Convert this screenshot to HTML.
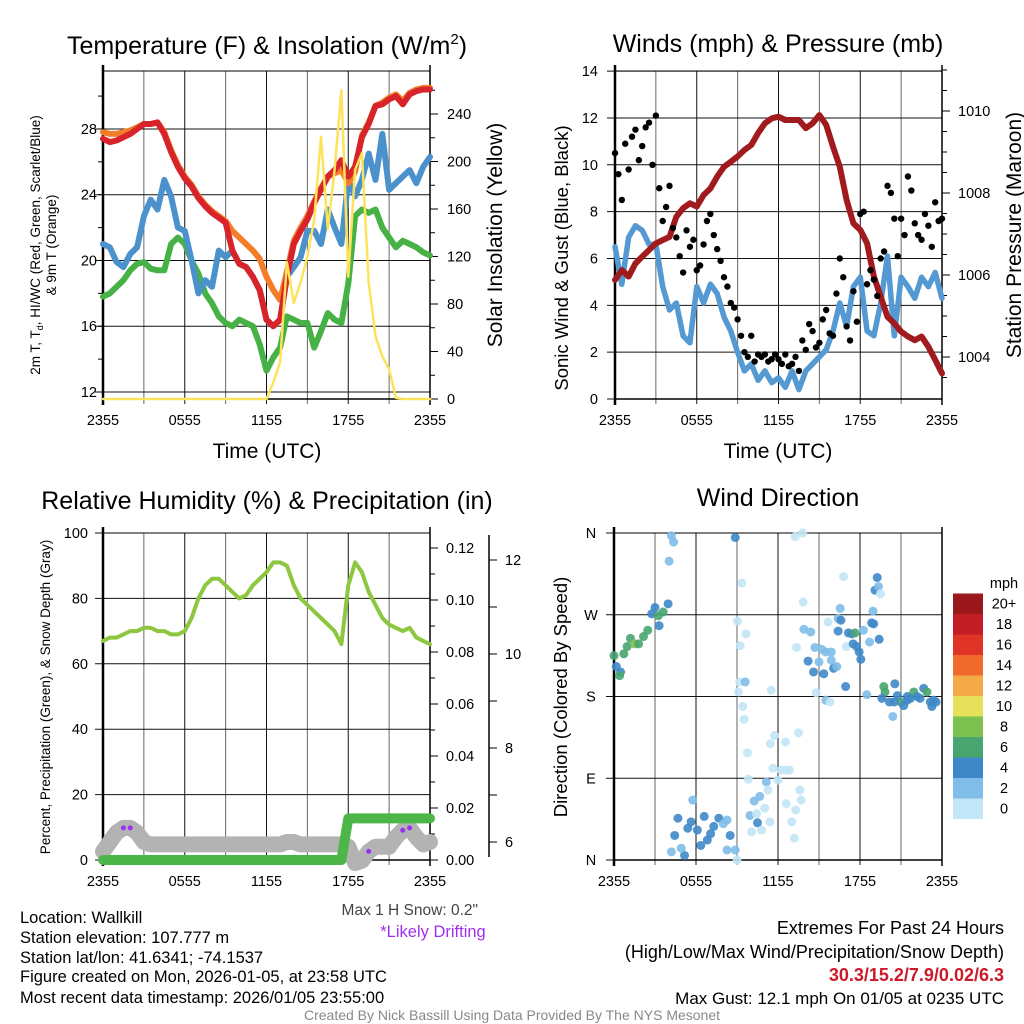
<!DOCTYPE html>
<html><head><meta charset="utf-8"><style>
html,body{margin:0;padding:0;background:#fff;}
svg{display:block;font-family:"Liberation Sans",Arial,sans-serif;}
</style></head><body>
<svg id="chart" width="1024" height="1024" viewBox="0 0 1024 1024" xmlns="http://www.w3.org/2000/svg">
<rect width="1024" height="1024" fill="#fff"/>
<g font-size="25" text-anchor="middle" fill="#000">
<text x="267" y="54">Temperature (F) &amp; Insolation (W/m<tspan dy="-10" font-size="15">2</tspan><tspan dy="10">)</tspan></text>
<text x="778" y="52">Winds (mph) &amp; Pressure (mb)</text>
<text x="267" y="509">Relative Humidity (%) &amp; Precipitation (in)</text>
<text x="778" y="506">Wind Direction</text>
</g>
<g font-size="21" text-anchor="middle">
<text x="267" y="458">Time (UTC)</text>
<text x="778" y="458">Time (UTC)</text>
<text transform="translate(502,235) rotate(-90)">Solar Insolation (Yellow)</text>
<text transform="translate(1021,235) rotate(-90)">Station Pressure (Maroon)</text>
</g>
<g font-size="18.5" text-anchor="middle">
<text transform="translate(568,258) rotate(-90)">Sonic Wind &amp; Gust (Blue, Black)</text>
<text transform="translate(567,697) rotate(-90)">Direction (Colored By Speed)</text>
</g>
<g font-size="13.5" text-anchor="middle">
<text transform="translate(40,245) rotate(-90)">2m T, T<tspan font-size="9" dy="3">d</tspan><tspan dy="-3">, HI/WC (Red, Green, Scarlet/Blue)</tspan></text>
<text transform="translate(56,245) rotate(-90)">&amp; 9m T (Orange)</text>
<text transform="translate(50,697) rotate(-90)">Percent, Precipitation (Green), &amp; Snow Depth (Gray)</text>
</g>
<g id="plots"></g>
<g font-size="16.5" fill="#000">
<text x="20" y="923">Location: Wallkill</text>
<text x="20" y="943">Station elevation: 107.777 m</text>
<text x="20" y="963">Station lat/lon: 41.6341; -74.1537</text>
<text x="20" y="982">Figure created on Mon, 2026-01-05, at 23:58 UTC</text>
<text x="20" y="1003">Most recent data timestamp: 2026/01/05 23:55:00</text>
<text x="478" y="915" text-anchor="end" fill="#444" font-size="15.5">Max 1 H Snow: 0.2"</text>
<text x="433" y="937" text-anchor="middle" fill="#a030f0">*Likely Drifting</text>
<g text-anchor="end" font-size="18">
<text x="1004" y="934">Extremes For Past 24 Hours</text>
<text x="1004" y="958">(High/Low/Max Wind/Precipitation/Snow Depth)</text>
<text x="1004" y="981" fill="#cc1a2a" font-weight="bold">30.3/15.2/7.9/0.02/6.3</text>
<text x="1004" y="1004" font-size="17">Max Gust: 12.1 mph On 01/05 at 0235 UTC</text>
</g>
<text x="512" y="1020" text-anchor="middle" font-size="14" fill="#888">Created By Nick Bassill Using Data Provided By The NYS Mesonet</text>
</g>
</svg>
<script>
// ---- data (49 samples, every 30 min from 2355 to 2355) ----
const timeLabels = ["2355","0555","1155","1755","2355"];
const tempF = [27.4,27.2,27.3,27.5,27.7,28.0,28.3,28.3,28.4,27.7,26.6,25.7,25.0,24.5,23.8,23.3,22.9,22.6,22.3,20.6,19.8,19.6,19.0,18.2,16.4,16.0,16.4,19.0,21.0,21.8,22.5,23.5,24.3,25.1,25.5,26.1,25.1,25.7,27.5,28.3,29.4,29.5,29.8,30.0,29.5,30.1,30.3,30.4,30.4];
const temp9m = [27.8,27.7,27.7,27.8,27.9,28.1,28.3,28.3,28.4,27.8,26.7,25.8,25.1,24.6,23.9,23.4,23.0,22.7,22.4,21.8,21.4,21.0,20.6,20.1,19.0,18.2,17.6,19.3,21.2,22.0,22.7,23.6,24.4,25.1,25.3,25.5,24.7,25.4,27.6,28.4,29.4,29.6,29.9,30.1,29.7,30.2,30.4,30.5,30.5];
const dewF = [17.8,18.0,18.4,18.8,19.4,19.8,19.9,19.5,19.4,19.4,21.0,21.4,21.0,20.0,19.2,18.0,17.4,16.6,16.2,16.0,16.4,16.2,16.0,14.9,13.3,14.1,14.7,16.6,16.4,16.2,16.2,14.7,15.7,16.8,16.4,16.2,18.6,22.7,23.1,22.9,23.1,22.0,21.4,20.8,21.2,21.0,20.8,20.5,20.3];
const windChill = [21.0,20.8,19.9,19.6,20.4,20.8,22.7,23.7,23.1,24.9,23.9,22.0,21.8,20.0,18.0,18.8,18.4,20.6,20.2,20.6,19.8,19.6,19.0,18.2,16.4,16.0,16.4,19.0,19.6,20.2,21.8,21.8,21.0,23.1,22.0,21.0,24.9,23.9,24.9,26.5,24.9,27.7,24.3,24.7,25.1,25.5,24.7,25.7,26.3];
const insolation = [0,0,0,0,0,0,0,0,0,0,0,0,0,0,0,0,0,0,0,0,0,0,0,0,0,14,31,115,81,98,120,151,221,143,193,260,103,193,207,98,53,36,25,1,0,0,0,0,0];
const windSpeed = [6.5,4.9,6.9,7.4,7.2,6.6,6.6,4.8,3.8,4.1,2.7,2.4,4.8,4.1,4.9,4.5,3.5,2.9,2.0,1.2,1.5,0.8,1.2,0.7,0.9,0.5,1.2,0.4,1.2,1.5,1.8,2.1,2.9,4.1,3.1,4.8,5.2,2.9,2.7,4.1,6.1,2.7,5.2,4.8,4.3,5.2,4.8,5.4,4.3];
const windGust = [10.5,8.5,9.8,11.5,10.8,11.8,12.1,7.6,9.1,6.9,5.4,6.5,5.5,6.6,7.9,6.4,5.2,4.1,3.4,2.0,2.7,1.9,1.9,1.7,1.7,1.9,1.5,1.2,2.1,2.9,2.4,3.8,2.7,6.0,3.1,4.6,7.9,4.9,5.1,6.0,9.1,7.7,7.7,9.5,7.5,6.8,7.4,8.4,7.7];
const windGustHalf = [9.6,10.9,11.2,10.2,11.6,10.0,9.0,8.2,7.3,6.1,7.2,6.8,5.7,7.6,7.0,5.9,4.8,3.9,2.7,1.8,1.6,1.8,1.6,1.9,1.5,1.4,1.8,2.5,3.2,2.2,3.4,2.8,4.5,5.2,2.5,3.3,8.0,5.5,4.4,6.3,8.8,6.1,7.0,8.9,7.0,7.9,6.5,7.6];
const pressure = [1005.88,1006.12,1005.96,1006.28,1006.45,1006.61,1006.77,1006.85,1006.93,1007.42,1007.63,1007.75,1007.67,1007.95,1008.11,1008.40,1008.64,1008.76,1008.89,1009.05,1009.17,1009.46,1009.70,1009.82,1009.86,1009.78,1009.78,1009.78,1009.58,1009.70,1009.90,1009.66,1009.13,1008.64,1007.83,1007.26,1007.10,1006.77,1005.96,1005.47,1004.98,1004.82,1004.62,1004.50,1004.41,1004.50,1004.25,1003.93,1003.60];
const relHum = [67,68,68,69,70,70,71,71,70,70,69,69,70,74,80,84,86,86,84,82,80,81,84,86,88,91,91,90,84,80,78,76,74,72,70,66,84,91,88,82,78,74,72,71,70,71,68,67,66];
const precip = [0,0,0,0,0,0,0,0,0,0,0,0,0,0,0,0,0,0,0,0,0,0,0,0,0,0,0,0,0,0,0,0,0,0,0,0,0.016,0.016,0.016,0.016,0.016,0.016,0.016,0.016,0.016,0.016,0.016,0.016,0.016];
const snowDepth = [5.8,6.0,6.2,6.3,6.3,6.2,6.0,5.95,5.95,5.95,5.95,5.95,5.95,5.95,5.95,5.95,5.95,5.95,5.95,5.95,5.95,5.95,5.95,5.95,5.95,5.95,5.95,6.0,6.0,5.95,5.95,5.95,5.95,5.95,5.95,5.95,5.9,5.55,5.6,5.8,5.9,5.9,5.9,6.1,6.25,6.3,6.1,5.95,6.0];
const drifting = [0,0,0,1,1,0,0,0,0,0,0,0,0,0,0,0,0,0,0,0,0,0,0,0,0,0,0,0,0,0,0,0,0,0,0,0,0,0,0,1,0,0,0,0,1,1,0,0,0];
const dirHour = [0,0.17,0.48,0.41,0.72,0.96,1.2,1.5,1.8,2.16,2.47,2.76,3.0,3.24,3.3,3.6,3.96,4.2,4.36,4.03,5.76,4.68,4.44,4.2,5.16,4.92,5.4,5.64,6.1,6.6,6.83,6.35,7.07,7.3,7.67,8.0,8.27,8.5,8.27,8.87,9.0,8.87,9.35,9.04,9.66,9.23,9.2,9.6,9.11,9.42,9.52,9.76,9.83,9.95,10.07,10.43,10.26,10.67,11.15,11.03,10.5,10.8,11.4,11.27,11.5,11.44,11.75,11.63,11.99,12.54,12.23,12.6,12.83,12.6,13.0,13.2,13.3,13.6,13.7,13.5,13.26,13.8,13.84,13.9,13.36,14.2,14.4,14.7,14.6,14.8,15.0,15.2,15.5,15.35,15.9,15.9,16.07,16.3,15.5,15.8,15.66,16.55,16.4,16.8,16.6,16.4,16.95,17.0,17.15,17.4,17.63,17.5,17.75,17.94,18.06,18.25,18.5,18.7,18.85,18.95,19.0,19.26,19.1,19.35,19.5,19.4,19.74,19.83,19.6,20.15,20.4,20.55,20.74,20.98,21.2,21.46,21.7,21.94,22.18,22.4,22.66,22.9,23.14,23.38,23.57,23.26,20.5,21.46];
const dirDeg = [225,213,207,203,227,235,244,238,238,246,253,271,278,269,258,273,282,357,350,329,66,46,27,9,5,13,35,42,33,48,22,16,29,37,46,40,44,27,11,11,0,355,305,263,249,236,196,196,185,169,155,118,89,49,31,51,65,70,86,57,41,33,42,77,187,128,137,101,88,130,99,99,99,62,42,24,55,77,66,140,356,360,284,254,234,219,251,234,207,184,218,232,229,205,229,220,211,213,176,174,262,277,266,312,264,252,191,235,250,249,250,238,235,229,221,253,182,240,261,274,260,311,297,301,293,243,191,185,178,174,158,194,181,174,170,176,178,185,180,178,189,185,174,176,174,169,174,180];
const dirSpeed = [7,5,5,7,7,7,7,9,7,7,7,5,5,7,5,7,5,3,3,3,3,5,5,3,5,3,5,5,5,5,5,5,5,5,5,3,3,5,3,3,1,5,1,1,1,1,1,3,1,1,1,1,1,3,1,1,3,3,3,1,5,1,1,1,1,1,1,1,1,1,1,1,1,1,1,1,1,1,1,1,1,1,1,3,1,5,3,3,5,1,3,3,3,5,3,3,5,3,3,1,1,3,3,1,5,5,5,1,5,5,7,5,5,5,5,3,3,3,5,3,5,5,5,3,1,5,7,7,5,5,3,5,5,7,5,5,5,7,5,5,5,7,5,5,5,5,5,5];
const speedBins = ["0","2","4","6","8","10","12","14","16","18","20+"];
const speedColors = ["#c2e5f7","#80bde8","#3f88c8","#48a56f","#7dc24f","#e6e05a","#f5aa4a","#f06a2d","#df3426","#c11f25","#9a181c"];

const NS = "http://www.w3.org/2000/svg";
const root = document.getElementById('plots');
function mk(tag, attrs, parent) {
  const e = document.createElementNS(NS, tag);
  for (const k in attrs) e.setAttribute(k, attrs[k]);
  (parent || root).appendChild(e);
  return e;
}
const hourOf = i => i * 0.5;

const P1 = {x0:103, x1:430, y0:71, y1:399};
const P2 = {x0:615, x1:942, y0:71, y1:399};
const P3 = {x0:103, x1:430, y0:533, y1:860};
const P4 = {x0:614, x1:942, y0:533, y1:860};
const xh = (P, h) => P.x0 + h / 24 * (P.x1 - P.x0);
const yT = v => 392 - (v - 12) * 16.44;
const yI = v => 399 - v * 1.1875;
const yW = v => 399 - v * 23.42;
const yP = v => 357 - (v - 1004) * 41;
const yRH = v => 860 - v * 3.27;
const yPr = v => 860 - v * 2600;
const ySn = v => 842 - (v - 6) * 47;
const yD = v => 860 - v / 360 * 327;

function frame(P, name) {
  const g = mk('g', {});
  
  
  for (let k = 0; k <= 8; k++) {
    const x = P.x0 + k * (P.x1 - P.x0) / 8;
    mk('line', {x1:x, x2:x, y1:P.y0, y2:P.y1 + 5, stroke: k % 2 ? '#666' : '#111', 'stroke-width':1}, g);
  }
  timeLabels.forEach((t, k) => {
    const x = P.x0 + k * (P.x1 - P.x0) / 4;
    const tx = mk('text', {x:x, y:P.y1 + 26, 'font-size':14.5, 'text-anchor':'middle'}, g);
    tx.textContent = t;
  });
  return g;
}
function hgrid(g, P, y) { mk('line', {x1:P.x0 - 8, x2:P.x1, y1:y, y2:y, stroke:'#111', 'stroke-width':1}, g); }
function label(g, x, y, txt, anchor) {
  const t = mk('text', {x:x, y:y + 5, 'font-size':14.5, 'text-anchor':anchor}, g);
  t.textContent = txt;
}
function boxAxes(g, P) {
  mk('line', {x1:P.x0, x2:P.x0, y1:P.y0 - 6, y2:P.y1 + 6, stroke:'#000', 'stroke-width':2.5}, g);
  mk('line', {x1:P.x1, x2:P.x1, y1:P.y0 - 6, y2:P.y1 + 6, stroke:'#000', 'stroke-width':1.5}, g);
  mk('line', {x1:P.x0, x2:P.x1, y1:P.y1, y2:P.y1, stroke:'#000', 'stroke-width':1.5}, g);
  mk('line', {x1:P.x0, x2:P.x1, y1:P.y0, y2:P.y0, stroke:'#000', 'stroke-width':1}, g);
}
function linePath(P, vals, yf) {
  return vals.map((v, i) => (i ? 'L' : 'M') + xh(P, hourOf(i)).toFixed(1) + ',' + yf(v).toFixed(1)).join(' ');
}
function series(P, vals, yf, color, w, name) {
  const p = mk('path', {d: linePath(P, vals, yf), fill:'none', stroke:color, 'stroke-width':w, 'stroke-linejoin':'round', 'stroke-linecap':'round'});
  
  
  return p;
}

// ---------- Panel 1 ----------
const g1 = frame(P1, 'temp');
[12,16,20,24,28].forEach(v => { hgrid(g1, P1, yT(v)); label(g1, 97, yT(v), String(v), 'end'); });
for (let v = 12; v <= 30; v += 2) mk('line', {x1:P1.x0 - 5, x2:P1.x0, y1:yT(v), y2:yT(v), stroke:'#000'}, g1);
for (let v = 0; v <= 260; v += 20) mk('line', {x1:P1.x1, x2:P1.x1 + (v % 40 ? 5 : 8), y1:yI(v), y2:yI(v), stroke:'#000'}, g1);
for (let v = 0; v <= 240; v += 40) label(g1, 447, yI(v), String(v), 'start');
boxAxes(g1, P1);
series(P1, dewF, yT, '#46b144', 6, 'dewpoint-line');
series(P1, windChill, yT, '#4b91cc', 6, 'wind-chill-line');
series(P1, temp9m, yT, '#f47d2a', 6, 'temp-9m-line');
series(P1, tempF, yT, '#d8232a', 6, 'temp-2m-line');
series(P1, insolation, yI, '#fde35b', 2.5, 'insolation-line');

// ---------- Panel 2 ----------
const g2 = frame(P2, 'wind');
for (let v = 0; v <= 14; v += 2) { hgrid(g2, P2, yW(v)); label(g2, 598, yW(v), String(v), 'end'); }
for (let v = 1003.5; v <= 1011; v += 0.5) mk('line', {x1:P2.x1, x2:P2.x1 + (v % 2 ? 5 : 8), y1:yP(v), y2:yP(v), stroke:'#000'}, g2);
for (let v = 1004; v <= 1010; v += 2) label(g2, 958, yP(v), String(v), 'start');
boxAxes(g2, P2);
series(P2, windSpeed, yW, '#5499d2', 5.5, 'wind-speed-line');
series(P2, pressure, yP, '#a01a1e', 6, 'pressure-line');
windGust.forEach((v, i) => {
  const c = mk('circle', {cx:xh(P2, hourOf(i)), cy:yW(v), r:3.2, fill:'#000'});
  
  
});
windGustHalf.forEach((v, i) => {
  const c = mk('circle', {cx:xh(P2, hourOf(i) + 0.25), cy:yW(v), r:3.2, fill:'#000'});
  
  
});

// ---------- Panel 3 ----------
const g3 = frame(P3, 'rh');
for (let v = 0; v <= 100; v += 20) { hgrid(g3, P3, yRH(v)); label(g3, 88, yRH(v), String(v), 'end'); }
for (let v = 0; v <= 0.125; v += 0.01) mk('line', {x1:P3.x1, x2:P3.x1 + (Math.round(v * 100) % 2 ? 5 : 8), y1:yPr(v), y2:yPr(v), stroke:'#000'}, g3);
for (let v = 0; v <= 0.121; v += 0.02) label(g3, 446, yPr(v), v.toFixed(2), 'start');
mk('line', {x1:489, x2:489, y1:535, y2:857, stroke:'#000', 'stroke-width':1.5}, g3);
for (let v = 5.5; v <= 12.5; v += 0.5) mk('line', {x1:489, x2:489 + (v % 1 ? 0 : 8), y1:ySn(v), y2:ySn(v), stroke:'#000'}, g3);
for (let v = 6; v <= 12; v += 2) label(g3, 505, ySn(v), String(v), 'start');
boxAxes(g3, P3);
series(P3, snowDepth, ySn, '#b3b3b3', 16, 'snow-depth-line');
series(P3, precip, yPr, '#4cb748', 10, 'precip-line');
series(P3, relHum, yRH, '#8dc63f', 4, 'rh-line');
drifting.forEach((f, i) => {
  if (!f) return;
  const c = mk('circle', {cx:xh(P3, hourOf(i)), cy:ySn(snowDepth[i]), r:2.5, fill:'#9b30f0'});
  
  
});

// ---------- Panel 4 ----------
const g4 = frame(P4, 'direction');
const dirNames = ['N','E','S','W','N'];
[0,90,180,270,360].forEach((d, k) => { hgrid(g4, P4, yD(d)); label(g4, 591, yD(d), dirNames[k], 'middle'); });
boxAxes(g4, P4);
dirHour.forEach((h, i) => {
  const bin = Math.min(10, Math.floor(dirSpeed[i] / 2));
  const c = mk('circle', {cx:xh(P4, h), cy:yD(dirDeg[i]), r:4.5, fill:speedColors[bin], 'fill-opacity':0.9});
  
  
});
const cb = mk('g', {});


const cbt = mk('text', {x:1004, y:588, 'font-size':14.5, 'text-anchor':'middle'}, cb);
cbt.textContent = 'mph';
speedBins.forEach((b, k) => {
  const y = 819 - (k + 1) * 20.5;
  mk('rect', {x:953, y:y, width:30, height:20.5, fill:speedColors[k]}, cb);
  const t = mk('text', {x:1004, y:y + 15, 'font-size':14.5, 'text-anchor':'middle'}, cb);
  t.textContent = b;
});
</script>
</body></html>
